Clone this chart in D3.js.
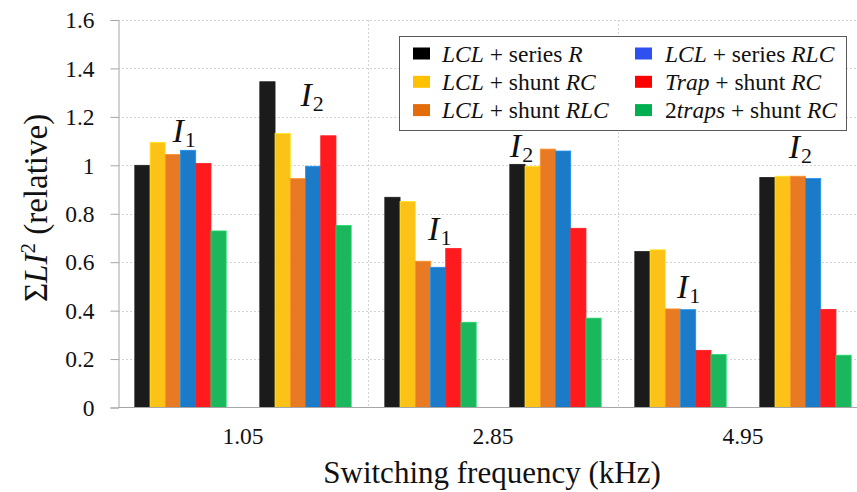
<!DOCTYPE html>
<html>
<head>
<meta charset="utf-8">
<script src="https://cdn.jsdelivr.net/npm/d3@7"></script>
<style>
  body { margin: 0; background: #fff; }
  svg { display: block; }
</style>
</head>
<body>
<div id="chart"></div>
<script>
// Data
const frequencies = ["1.05", "2.85", "4.95"];
const currents = ["1", "2"];   // I1, I2
const seriesNames = [
  "*LCL* + series *R*",
  "*LCL* + shunt *RC*",
  "*LCL* + shunt *RLC*",
  "*LCL* + series *RLC*",
  "*Trap* + shunt *RC*",
  "2*traps* + shunt *RC*"
];
// one row per frequency, one value per series
const i1Values = [
  [1.000, 1.095, 1.045, 1.062, 1.008, 0.729],
  [0.868, 0.851, 0.604, 0.579, 0.657, 0.352],
  [0.644, 0.651, 0.407, 0.404, 0.236, 0.219]
];
const i2Values = [
  [1.345, 1.131, 0.945, 0.996, 1.122, 0.752],
  [1.004, 0.996, 1.067, 1.059, 0.740, 0.369],
  [0.950, 0.955, 0.955, 0.946, 0.405, 0.216]
];
const yTicks = [0, 0.2, 0.4, 0.6, 0.8, 1, 1.2, 1.4, 1.6];
const yTickLabels = ["0", "0.2", "0.4", "0.6", "0.8", "1", "1.2", "1.4", "1.6"];

const barColors = ["#1b1b1b", "#fdc217", "#e77a22", "#1b7bc8", "#ff1a1e", "#1bb75c"];
const legendColors = ["#000000", "#ffc000", "#e46c0a", "#2e50f0", "#ff0000", "#00b050"];

const FONT = "Liberation Serif";

// Layout
const W = 857, H = 492;
const plotLeft = 118, plotRight = 868, plotTop = 20, plotBottom = 407.5;

const svg = d3.select("#chart").append("svg")
  .attr("width", W)
  .attr("height", H)
  .attr("font-family", FONT);

const y = d3.scaleLinear().domain([0, 1.6]).range([plotBottom, plotTop]);

const xFreq = d3.scaleBand().domain(frequencies).range([plotLeft, plotRight]);

const groups = [];
frequencies.forEach((f, fi) => {
  currents.forEach(c => {
    groups.push({ key: f + "|" + c, freq: f, fi: fi, cur: c,
      values: (c === "1" ? i1Values : i2Values)[fi] });
  });
});

const xSub = d3.scaleBand()
  .domain(groups.map(d => d.key))
  .range([plotLeft, plotRight])
  .paddingInner(0.269)
  .paddingOuter(0.1345);

const xBar = d3.scaleBand()
  .domain(d3.range(seriesNames.length))
  .range([0, xSub.bandwidth()]);

// Horizontal grid
svg.append("g")
  .selectAll("line")
  .data(yTicks.slice(1))
  .join("line")
    .attr("x1", plotLeft).attr("x2", W)
    .attr("y1", d => Math.round(y(d)) + 0.5)
    .attr("y2", d => Math.round(y(d)) + 0.5)
    .attr("stroke", "#d4d4d4")
    .attr("stroke-dasharray", "2,2");

// Vertical separators between frequencies
svg.append("g")
  .selectAll("line")
  .data(frequencies)
  .join("line")
    .attr("x1", d => Math.round(xFreq(d) + xFreq.bandwidth()) + 0.5)
    .attr("x2", d => Math.round(xFreq(d) + xFreq.bandwidth()) + 0.5)
    .attr("y1", plotTop).attr("y2", plotBottom)
    .attr("stroke", "#d4d4d4")
    .attr("stroke-dasharray", "2,2");

// Bars
const g = svg.append("g")
  .selectAll("g")
  .data(groups)
  .join("g")
    .attr("transform", d => "translate(" + xSub(d.key) + ",0)");

g.selectAll("rect")
  .data(d => d.values.map((v, i) => ({ v: v, i: i })))
  .join("rect")
    .attr("x", d => xBar(d.i))
    .attr("y", d => y(d.v))
    .attr("width", xBar.bandwidth())
    .attr("height", d => y(0) - y(d.v))
    .attr("fill", d => barColors[d.i])
    .attr("stroke", d => d3.color(barColors[d.i]).brighter(0.5))
    .attr("stroke-width", 0.8);

// Axes
const yAxis = svg.append("g")
  .attr("transform", "translate(" + (plotLeft + 0.5) + ",0)")
  .call(d3.axisLeft(y).tickValues(yTicks).tickFormat((d, i) => yTickLabels[i]).tickSize(8).tickPadding(16));
yAxis.attr("font-family", FONT);
yAxis.select(".domain").attr("stroke", "#a6a6a6");
yAxis.selectAll(".tick line").attr("stroke", "#a6a6a6");
yAxis.selectAll("text")
  .attr("font-family", FONT)
  .attr("font-size", 23.5)
  .attr("fill", "#111")
  .attr("dy", "0.33em");

svg.append("line")
  .attr("x1", plotLeft).attr("x2", W)
  .attr("y1", plotBottom).attr("y2", plotBottom)
  .attr("stroke", "#a6a6a6");

svg.append("g")
  .selectAll("text")
  .data(frequencies)
  .join("text")
    .attr("x", d => xFreq(d) + xFreq.bandwidth() / 2)
    .attr("y", 444)
    .attr("text-anchor", "middle")
    .attr("font-family", FONT)
    .attr("font-size", 23.5)
    .attr("fill", "#111")
    .text(d => d);

// Axis titles
svg.append("text")
  .attr("x", 492)
  .attr("y", 483)
  .attr("text-anchor", "middle")
  .attr("font-family", FONT)
  .attr("font-size", 31)
  .attr("fill", "#111")
  .text("Switching frequency (kHz)");

const yt = svg.append("text")
  .attr("transform", "translate(47,208) rotate(-90)")
  .attr("text-anchor", "middle")
  .attr("font-family", FONT)
  .attr("font-size", 33)
  .attr("fill", "#111");
yt.append("tspan").text("\u03A3");
yt.append("tspan").attr("font-style", "italic").text("LI");
yt.append("tspan").attr("font-size", 21).attr("dy", -12).text("2");
yt.append("tspan").attr("dy", 12).text(" (relative)");

// I1 / I2 annotations: [frequency index, current, bar offset, value at baseline]
const notes = [
  [0, "1", 2.47, 1.097],
  [0, "2", 2.67, 1.243],
  [1, "1", 2.84, 0.690],
  [1, "2", 0.0, 1.034],
  [2, "1", 2.77, 0.452],
  [2, "2", 1.90, 1.032]
];
notes.forEach(n => {
  const key = frequencies[n[0]] + "|" + n[1];
  const t = svg.append("text")
    .attr("x", xSub(key) + n[2] * xBar.step())
    .attr("y", y(n[3]))
    .attr("font-family", FONT)
    .attr("font-size", 34)
    .attr("fill", "#111");
  t.append("tspan").attr("font-style", "italic").text("I");
  t.append("tspan").attr("font-size", 22).attr("dy", 5).attr("dx", 1).text(n[1]);
});

// Legend
const lg = svg.append("g");
lg.append("rect")
  .attr("x", 399.5).attr("y", 36.5)
  .attr("width", 447).attr("height", 94)
  .attr("fill", "#fff")
  .attr("stroke", "#595959");

const item = lg.selectAll("g.item")
  .data(seriesNames)
  .join("g")
    .attr("class", "item")
    .attr("transform", (d, i) => "translate(" + (i < 3 ? 413 : 635) + "," + (53.5 + (i % 3) * 28.3) + ")");

item.append("rect")
  .attr("x", 0).attr("y", -6)
  .attr("width", 17).attr("height", 12)
  .attr("fill", (d, i) => legendColors[i]);

item.append("text")
  .attr("x", (d, i) => i < 3 ? 29 : 30)
  .attr("y", 8)
  .attr("font-family", FONT)
  .attr("font-size", 23.5)
  .attr("fill", "#111")
  .each(function(d) {
    const el = d3.select(this);
    d.split("*").forEach((part, k) => {
      if (part.length) el.append("tspan").attr("font-style", k % 2 ? "italic" : "normal").text(part);
    });
  });
</script>
</body>
</html>
